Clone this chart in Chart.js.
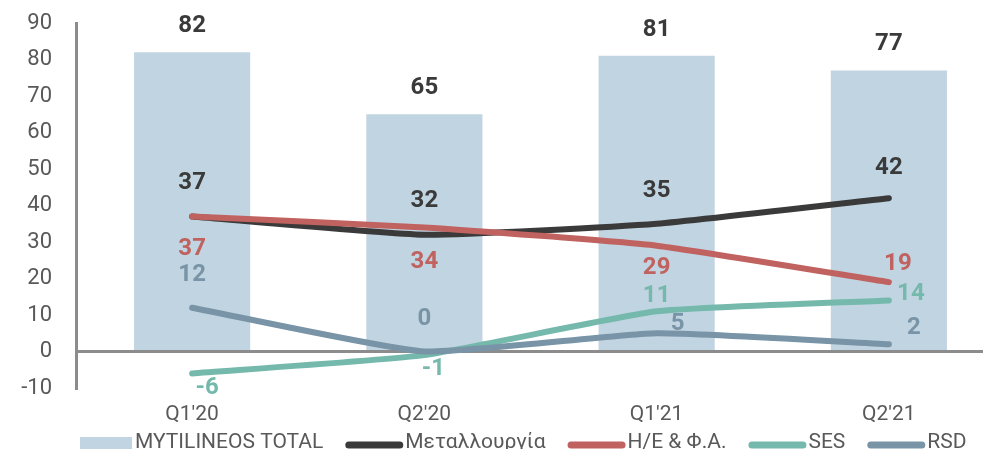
<!DOCTYPE html>
<html><head><meta charset="utf-8">
<script src="https://cdn.jsdelivr.net/npm/chart.js@4.4.0/dist/chart.umd.min.js"></script>
<style>
html,body{margin:0;padding:0;background:#fff;overflow:hidden;}
#wrap{width:983px;height:449px;overflow:hidden;position:relative;}
canvas{display:block;}
</style>
</head><body><div id="wrap"><canvas id="c" width="1048" height="449"></canvas></div>
<script>
// ---- data ----
const categories = ["Q1'20", "Q2'20", "Q1'21", "Q2'21"];
const totalValues = [82, 65, 81, 77];
const metalValues = [37, 32, 35, 42];
const powerValues = [37, 34, 29, 19];
const sesValues = [-6, -1, 11, 14];
const rsdValues = [12, 0, 5, 2];
const yTickValues = [-10, 0, 10, 20, 30, 40, 50, 60, 70, 80, 90];
const seriesNames = ["MYTILINEOS TOTAL", "Μεταλλουργία", "Η/Ε & Φ.Α.", "SES", "RSD"];

// ---- styles ----
const colors = ['#C1D4E1', '#3A3A3A', '#C0625F', '#75B9AD', '#7894A6'];
const labelColors = ['#3A3A3A', '#3A3A3A', '#C0625F', '#75B9AD', '#7894A6'];
const labelOffsets = [
  [[0,-26],[0,-26],[0,-26],[0,-26]],
  [[0,-33],[0,-34],[0,-33],[0,-30]],
  [[0,33],[0,35],[0,22],[9,-18]],
  [[15,15],[9,14],[0,-15],[22,-6]],
  [[0,-33],[0,-33],[21,-9],[25,-16]]
];

Chart.defaults.font.family = 'Roboto, "Open Sans", sans-serif';

const labelPlugin = {
  id: 'valueLabels',
  afterDatasetsDraw(chart) {
    const ctx = chart.ctx;
    ctx.save();
    ctx.font = 'bold 24px Roboto';
    ctx.textAlign = 'center';
    ctx.textBaseline = 'middle';
    chart.data.datasets.forEach((ds, i) => {
      const meta = chart.getDatasetMeta(i);
      meta.data.forEach((el, j) => {
        const off = labelOffsets[i][j];
        ctx.fillStyle = labelColors[i];
        ctx.fillText(String(ds.data[j]), el.x + off[0], el.y + off[1]);
      });
    });
    ctx.restore();
  }
};

const legendPlugin = {
  id: 'customLegend',
  afterDraw(chart) {
    const ctx = chart.ctx;
    ctx.save();
    ctx.font = '21px Roboto';
    ctx.textBaseline = 'alphabetic';
    ctx.textAlign = 'left';
    let x = 80;
    const baseY = 448;
    seriesNames.forEach((name, i) => {
      if (i === 0) {
        ctx.fillStyle = colors[0];
        ctx.fillRect(x, 437, 52, 14);
        x += 55;
      } else {
        ctx.strokeStyle = colors[i];
        ctx.lineWidth = 7;
        ctx.lineCap = 'round';
        ctx.beginPath();
        ctx.moveTo(x + 3.5, 445);
        ctx.lineTo(x + 54.5, 445);
        ctx.stroke();
        x += 60;
      }
      ctx.fillStyle = '#595959';
      ctx.fillText(name, x, baseY);
      x += ctx.measureText(name).width + 22;
    });
    ctx.restore();
  }
};

const lineDs = (label, data, color, order) => ({
  type: 'line', label, data, borderColor: color, backgroundColor: color,
  borderWidth: 6, pointRadius: 0, tension: 0.15, borderCapStyle: 'round',
  borderJoinStyle: 'round', order
});

new Chart(document.getElementById('c'), {
  data: {
    labels: categories,
    datasets: [
      { type: 'bar', label: seriesNames[0], data: totalValues, backgroundColor: colors[0],
        barPercentage: 1, categoryPercentage: 0.5, order: 10 },
      lineDs(seriesNames[1], metalValues, colors[1], 4),
      lineDs(seriesNames[2], powerValues, colors[2], 3),
      lineDs(seriesNames[3], sesValues, colors[3], 2),
      lineDs(seriesNames[4], rsdValues, colors[4], 1)
    ]
  },
  options: {
    responsive: false,
    animation: false,
    layout: { padding: { top: 23, right: 43, bottom: 27, left: 0 } },
    plugins: { legend: { display: false }, tooltip: { enabled: false } },
    scales: {
      x: {
        offset: true,
        grid: { display: false, drawTicks: false },
        border: { display: false },
        ticks: { color: '#595959', font: { size: 21 }, padding: 14, maxRotation: 0, autoSkip: false },
        afterFit: s => { s.height = 34; s.paddingLeft = 0; s.paddingRight = 0; }
      },
      y: {
        min: -10, max: 90,
        afterBuildTicks: s => { s.ticks = yTickValues.map(v => ({ value: v })); },
        ticks: { color: '#595959', font: { size: 22 }, padding: 24 },
        grid: { drawTicks: false, lineWidth: 3,
          color: c => (c.tick && c.tick.value === 0) ? '#8C8C8C' : 'rgba(0,0,0,0)' },
        border: { display: true, color: '#8C8C8C', width: 3 },
        afterFit: s => { s.width = 76; s.paddingTop = 0; s.paddingBottom = 0; }
      }
    }
  },
  plugins: [labelPlugin, legendPlugin]
});
</script>
</body></html>
